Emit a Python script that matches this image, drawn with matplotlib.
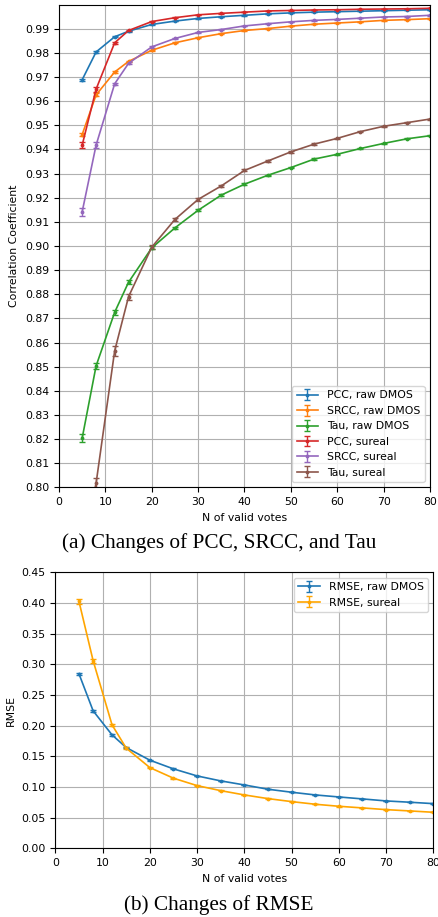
import numpy as np
import matplotlib
matplotlib.use("Agg")
import matplotlib.pyplot as plt

# N of valid votes
votes = [5, 8, 12, 15, 20, 25, 30, 35, 40, 45, 50, 55, 60, 65, 70, 75, 80]

# correlation coefficients (top panel)
pcc_raw = [0.9689, 0.9804, 0.9867, 0.9890, 0.9918, 0.9932, 0.9943, 0.9950, 0.9956,
           0.9962, 0.9966, 0.9969, 0.9971, 0.9973, 0.9975, 0.9977, 0.9979]
srcc_raw = [0.9462, 0.9626, 0.9721, 0.9765, 0.9811, 0.9842, 0.9863, 0.9880, 0.9893,
            0.9901, 0.9911, 0.9919, 0.9924, 0.9929, 0.9935, 0.9938, 0.9942]
tau_raw = [0.8204, 0.8503, 0.8725, 0.8850, 0.8992, 0.9075, 0.9148, 0.9211, 0.9256,
           0.9293, 0.9325, 0.9360, 0.9380, 0.9404, 0.9425, 0.9444, 0.9457]
pcc_sureal = [0.9418, 0.9650, 0.9842, 0.9893, 0.9930, 0.9946, 0.9958, 0.9964, 0.9969,
              0.9974, 0.9976, 0.9978, 0.9979, 0.9981, 0.9982, 0.9983, 0.9985]
srcc_sureal = [0.9142, 0.9418, 0.9672, 0.9757, 0.9825, 0.9860, 0.9885, 0.9897, 0.9912,
               0.9921, 0.9929, 0.9935, 0.9939, 0.9944, 0.9949, 0.9951, 0.9956]
tau_sureal = [0.7750, 0.8017, 0.8565, 0.8790, 0.8995, 0.9110, 0.9193, 0.9249, 0.9313,
              0.9352, 0.9390, 0.9422, 0.9446, 0.9474, 0.9496, 0.9511, 0.9526]

pcc_raw_err = [0.0004, 0.0003, 0.0002, 0.0002, 0.0001, 0.0001, 0.0001, 0.0001, 0.0001,
               0.0001, 0.0001, 0.0001, 0.0001, 0.0001, 0.0001, 0.0001, 0.0001]
srcc_raw_err = [0.0008, 0.0006, 0.0004, 0.0003, 0.0002, 0.0002, 0.0002, 0.0001, 0.0001,
                0.0001, 0.0001, 0.0001, 0.0001, 0.0001, 0.0001, 0.0001, 0.0001]
tau_raw_err = [0.0018, 0.0012, 0.0009, 0.0008, 0.0006, 0.0005, 0.0004, 0.0004, 0.0003,
               0.0003, 0.0003, 0.0003, 0.0002, 0.0002, 0.0002, 0.0002, 0.0002]
pcc_sureal_err = [0.0013, 0.0010, 0.0004, 0.0003, 0.0002, 0.0002, 0.0001, 0.0001, 0.0001,
                  0.0001, 0.0001, 0.0001, 0.0001, 0.0001, 0.0001, 0.0001, 0.0001]
srcc_sureal_err = [0.0017, 0.0012, 0.0005, 0.0004, 0.0003, 0.0002, 0.0002, 0.0002, 0.0001,
                   0.0001, 0.0001, 0.0001, 0.0001, 0.0001, 0.0001, 0.0001, 0.0001]
tau_sureal_err = [0.0030, 0.0020, 0.0020, 0.0012, 0.0008, 0.0006, 0.0005, 0.0004, 0.0004,
                  0.0003, 0.0003, 0.0003, 0.0003, 0.0002, 0.0002, 0.0002, 0.0002]

# RMSE (bottom panel)
rmse_raw = [0.2848, 0.2243, 0.1851, 0.1644, 0.1438, 0.1296, 0.1181, 0.1100, 0.1034,
            0.0964, 0.0915, 0.0871, 0.0838, 0.0806, 0.0773, 0.0752, 0.0729]
rmse_sureal = [0.4030, 0.3061, 0.2015, 0.1635, 0.1317, 0.1144, 0.1023, 0.0941, 0.0871,
               0.0811, 0.0762, 0.0719, 0.0686, 0.0659, 0.0631, 0.0610, 0.0588]
rmse_raw_err = [0.0020, 0.0015, 0.0012, 0.0010, 0.0008, 0.0007, 0.0006, 0.0005, 0.0005,
                0.0004, 0.0004, 0.0004, 0.0003, 0.0003, 0.0003, 0.0003, 0.0003]
rmse_sureal_err = [0.0040, 0.0030, 0.0020, 0.0015, 0.0010, 0.0008, 0.0007, 0.0006, 0.0005,
                   0.0005, 0.0004, 0.0004, 0.0004, 0.0003, 0.0003, 0.0003, 0.0003]

FS = 7.8
plt.rcParams["font.family"] = "DejaVu Sans"
plt.rcParams["font.size"] = FS

fig = plt.figure(figsize=(4.38, 9.17), dpi=100)

# ---- top panel: correlation ----
ax1 = fig.add_axes([0.1347, 0.4686, 0.8470, 0.5263])
top_series = [
    (pcc_raw, pcc_raw_err, "PCC, raw DMOS", "C0"),
    (srcc_raw, srcc_raw_err, "SRCC, raw DMOS", "C1"),
    (tau_raw, tau_raw_err, "Tau, raw DMOS", "C2"),
    (pcc_sureal, pcc_sureal_err, "PCC, sureal", "C3"),
    (srcc_sureal, srcc_sureal_err, "SRCC, sureal", "C4"),
    (tau_sureal, tau_sureal_err, "Tau, sureal", "C5"),
]
for vals, err, label, col in top_series:
    ax1.errorbar(votes, vals, yerr=err, label=label, color=col, lw=1.2,
                 marker=".", markersize=3.5, capsize=2, elinewidth=1)
ax1.set_xlim(0, 80)
ax1.set_ylim(0.80, 1.0)
ax1.set_yticks(np.arange(0.80, 0.995, 0.01))
ax1.set_xticks(np.arange(0, 81, 10))
ax1.grid(True, color="#b0b0b0", lw=0.8)
ax1.set_xlabel("N of valid votes", fontsize=FS)
ax1.set_ylabel("Correlation Coefficient", fontsize=FS)
ax1.legend(loc="lower right", fontsize=FS)

fig.text(0.5, 1 - 543 / 917, "(a) Changes of PCC, SRCC, and Tau",
         family="Liberation Serif", fontsize=15.3, ha="center", va="center")

# ---- bottom panel: RMSE ----
ax2 = fig.add_axes([0.1263, 0.0749, 0.8630, 0.3008])
ax2.errorbar(votes, rmse_raw, yerr=rmse_raw_err, label="RMSE, raw DMOS", color="C0",
             lw=1.2, marker=".", markersize=3.5, capsize=2, elinewidth=1)
ax2.errorbar(votes, rmse_sureal, yerr=rmse_sureal_err, label="RMSE, sureal", color="orange",
             lw=1.2, marker=".", markersize=3.5, capsize=2, elinewidth=1)
ax2.set_xlim(0, 80)
ax2.set_ylim(0, 0.45)
ax2.set_xticks(np.arange(0, 81, 10))
ax2.set_yticks(np.arange(0, 0.451, 0.05))
ax2.grid(True, color="#b0b0b0", lw=0.8)
ax2.set_xlabel("N of valid votes", fontsize=FS)
ax2.set_ylabel("RMSE", fontsize=FS)
ax2.legend(loc="upper right", fontsize=FS)

fig.text(0.5, 1 - 905 / 917, "(b) Changes of RMSE",
         family="Liberation Serif", fontsize=15.3, ha="center", va="center")

fig.savefig("out.png", dpi=100)
